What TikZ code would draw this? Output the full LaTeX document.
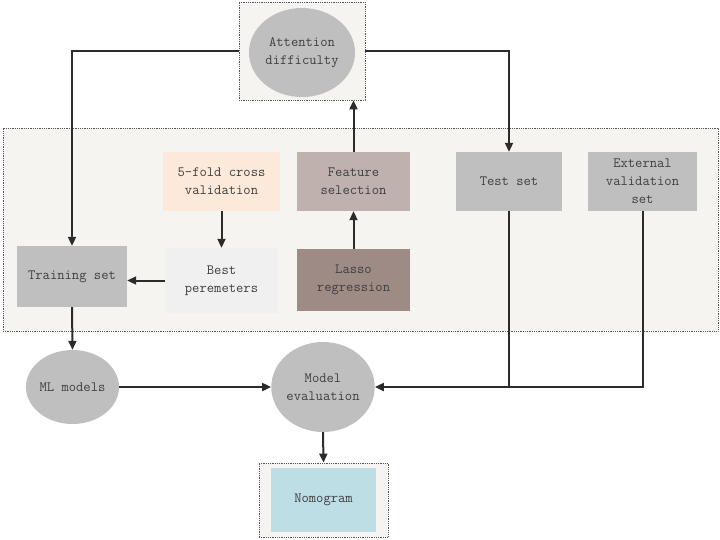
\documentclass[tikz,border=0pt]{standalone}
\usepackage{fontspec}
\usetikzlibrary{arrows.meta,shapes.geometric}
\definecolor{txt}{HTML}{3F3F3F}
\definecolor{bgc}{HTML}{F5F4F0}
\definecolor{grayc}{HTML}{BFBFBF}
\definecolor{peach}{HTML}{FCE9DA}
\definecolor{bestc}{HTML}{F0F0F0}
\definecolor{featc}{HTML}{BFB1AD}
\definecolor{lassoc}{HTML}{9E8B86}
\definecolor{nomoc}{HTML}{BDDEE5}
\definecolor{linec}{HTML}{2B2B2B}
\definecolor{dotc}{HTML}{555555}
\begin{document}
\begin{tikzpicture}[x=1pt,y=-1pt,
  every node/.style={font=\ttfamily\fontsize{14.2}{18}\selectfont, text=txt, align=center, inner sep=0pt},
  box/.style={rectangle, draw=none},
  oval/.style={ellipse, fill=grayc, draw=none},
  dotbox/.style={rectangle, draw=dotc, line width=0.8pt, dash pattern=on 0.8pt off 1pt, fill=bgc},
  conn/.style={draw=linec, line width=2pt},
  arr/.style={conn, -{Triangle[length=9pt,width=8pt]}}]
\useasboundingbox (0,0) rectangle (720,539);
% background containers
\node[dotbox, minimum width=715pt, minimum height=203pt] (main) at (360.5,229.5) {};
\node[dotbox, minimum width=126pt, minimum height=98pt] (attbox) at (302,51) {};
\node[dotbox, minimum width=129pt, minimum height=74pt] (nombox) at (323.5,500) {};
% nodes
\node[oval, minimum width=106pt, minimum height=89pt] (att) at (302,52.5) {Attention\\difficulty};
\node[box, fill=peach, minimum width=117pt, minimum height=59pt] (five) at (221.5,181.5) {5-fold cross\\validation};
\node[box, fill=bestc, minimum width=113pt, minimum height=65pt] (best) at (221.5,280.5) {Best\\peremeters};
\node[box, fill=grayc, minimum width=110pt, minimum height=61pt] (train) at (72,276.5) {Training set};
\node[box, fill=featc, minimum width=113pt, minimum height=59pt] (feat) at (353.5,181.5) {Feature\\selection};
\node[box, fill=lassoc, minimum width=113pt, minimum height=62pt] (lasso) at (353.5,280) {Lasso\\regression};
\node[box, fill=grayc, minimum width=106pt, minimum height=59pt] (test) at (509,181.5) {Test set};
\node[box, fill=grayc, minimum width=109pt, minimum height=59pt] (ext) at (642.5,181.5) {External\\validation\\set};
\node[oval, minimum width=91pt, minimum height=74pt] (ml) at (72.5,387) {ML models};
\node[oval, minimum width=98pt, minimum height=90pt] (eval) at (323,387) {Model\\evaluation};
\node[box, fill=nomoc, minimum width=105pt, minimum height=64pt] (nomo) at (323.5,500) {Nomogram};
% connectors
\draw[arr] (attbox.west) -| (train.north);
\draw[arr] (attbox.east) -| (test.north);
\draw[arr] (feat.north) -- (feat.north |- attbox.south);
\draw[arr] (lasso.north) -- (feat.south);
\draw[arr] (five.south) -- (best.north);
\draw[arr] (best.west) -- (best.west -| train.east);
\draw[arr] (train.south) -- (ml.north);
\draw[arr] (ml.east) -- (eval.west);
\draw[conn] (ext.south) |- (test.south |- eval.east);
\draw[arr] (test.south) |- (eval.east);
\draw[arr] (eval.south) -- (nombox.north);
\end{tikzpicture}
\end{document}
